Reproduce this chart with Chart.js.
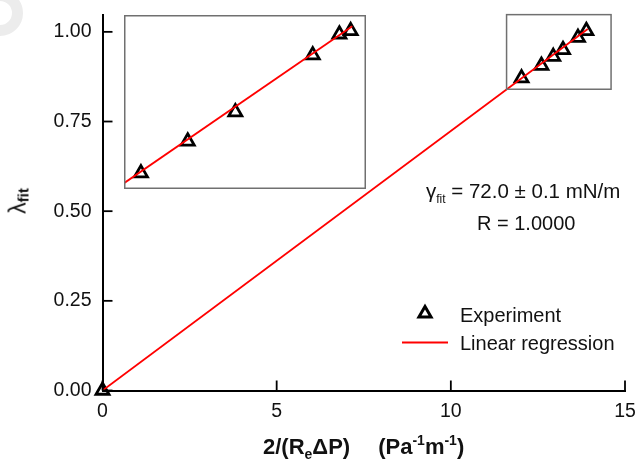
<!DOCTYPE html>
<html>
<head>
<meta charset="utf-8">
<script src="https://cdn.jsdelivr.net/npm/chart.js@4.4.1/dist/chart.umd.min.js"></script>
<style>
  body { margin: 0; background: #fff; }
  #wrap {
    position: relative;
    width: 636px;
    height: 468px;
    overflow: hidden;
    font-family: "Liberation Sans", Arial, sans-serif;
    color: #111;
  }
  #main { position: absolute; left: 0; top: 0; }
  .t { position: absolute; line-height: 1; white-space: nowrap; font-size: 20px; }
  .lo { position: relative; top: 5px; font-size: 12px; }
  .hi { position: relative; top: -9px; font-size: 14px; }
  #ring {
    position: absolute; left: -23px; top: -10px; width: 46px; height: 46px;
    box-sizing: border-box; border: 11px solid #ececec; border-radius: 50%;
  }
  #inset { position: absolute; left: 124px; top: 15px; }
</style>
</head>
<body>
<div id="wrap">
  <div id="ring"></div>
  <canvas id="main" width="636" height="468"></canvas>
  <canvas id="inset" width="242" height="174"></canvas>

  <div class="t" style="left:426px; top:181px; font-size:20.5px;">&gamma;<span class="lo">fit</span> = 72.0 &plusmn; 0.1 mN/m</div>
  <div class="t" style="left:477px; top:213px;">R = 1.0000</div>
  <div class="t" style="left:460px; top:305px;">Experiment</div>
  <div class="t" style="left:460px; top:333px;">Linear regression</div>

  <div class="t" style="left:263px; top:436px; font-size:22px; font-weight:bold;">2/(R<span class="lo" style="font-size:14px;">e</span>&Delta;P)<span style="display:inline-block;width:28px;"></span>(Pa<span class="hi">-1</span>m<span class="hi">-1</span>)</div>
  <div class="t" style="left:18px; top:201px; font-size:23px; transform:translate(-50%,-50%) rotate(-90deg);">&lambda;<span class="lo" style="font-size:15px; font-weight:bold; top:3px;">fit</span></div>
</div>

<script>
// measured points, 2/(Re dP) vs lambda_fit
const expX = [0, 12.03, 12.6, 12.94, 13.22, 13.65, 13.89];
const expY = [0, 0.871, 0.906, 0.931, 0.95, 0.984, 1.003];

// fitted line through origin
const regX = [0, 13.93];
const regY = [0, 1.008];

// inset (zoom of the upper right corner)
const insetX = [11.81, 12.39, 12.98, 13.94, 14.27, 14.41];
const insetY = [0.859, 0.897, 0.932, 1.0, 1.025, 1.029];
const insetRegX = [11.6, 14.43];
const insetRegY = [0.847, 1.0345];

const xTicks = [0, 5, 10, 15];
const yTicks = [0, 0.25, 0.5, 0.75, 1.0];

const zoomBox = { xMin: 11.6, xMax: 14.6, yMin: 0.84, yMax: 1.048 };

Chart.defaults.font.family = "'Liberation Sans', Arial, sans-serif";
Chart.defaults.color = "#111";

const toPoints = (xs, ys) => xs.map((x, i) => ({ x: x, y: ys[i] }));

const RED = "#ff0000";

const triangle = (ctx, x, y, r) => {
  ctx.beginPath();
  ctx.moveTo(x, y - r);
  ctx.lineTo(x + Math.sin(Math.PI * 2 / 3) * r, y + r / 2);
  ctx.lineTo(x - Math.sin(Math.PI * 2 / 3) * r, y + r / 2);
  ctx.closePath();
  ctx.stroke();
};

const mainExtras = {
  id: "mainExtras",
  afterDraw(chart) {
    const { ctx, chartArea, scales } = chart;
    ctx.save();
    // ticks pointing into the plot
    ctx.strokeStyle = "#000";
    ctx.lineWidth = 1.8;
    scales.x.ticks.forEach((t) => {
      const px = scales.x.getPixelForValue(t.value);
      ctx.beginPath();
      ctx.moveTo(px, chartArea.bottom);
      ctx.lineTo(px, chartArea.bottom - 10);
      ctx.stroke();
    });
    scales.y.ticks.forEach((t) => {
      const py = scales.y.getPixelForValue(t.value);
      ctx.beginPath();
      ctx.moveTo(chartArea.left, py);
      ctx.lineTo(chartArea.left + 10, py);
      ctx.stroke();
    });

    // box marking the zoomed region
    const x0 = scales.x.getPixelForValue(zoomBox.xMin);
    const x1 = scales.x.getPixelForValue(zoomBox.xMax);
    const y0 = scales.y.getPixelForValue(zoomBox.yMax);
    const y1 = scales.y.getPixelForValue(zoomBox.yMin);
    ctx.strokeStyle = "#707070";
    ctx.lineWidth = 1.5;
    ctx.strokeRect(x0, y0, x1 - x0, y1 - y0);

    // legend symbols
    ctx.strokeStyle = "#000";
    ctx.lineWidth = 3;
    ctx.lineJoin = "miter";
    triangle(ctx, 425, 313.5, 7);
    ctx.strokeStyle = RED;
    ctx.lineWidth = 2;
    ctx.beginPath();
    ctx.moveTo(402, 342.5);
    ctx.lineTo(448, 342.5);
    ctx.stroke();
    ctx.restore();
  },
};

new Chart(document.getElementById("main"), {
  type: "scatter",
  data: {
    datasets: [
      {
        type: "line",
        label: "Linear regression",
        data: toPoints(regX, regY),
        borderColor: RED,
        borderWidth: 1.8,
        pointRadius: 0,
        fill: false,
      },
      {
        label: "Experiment",
        data: toPoints(expX, expY),
        pointStyle: "triangle",
        pointRadius: 7.5,
        borderWidth: 2.8,
        borderColor: "#000",
        backgroundColor: "rgba(0,0,0,0)",
        clip: false,
      },
    ],
  },
  options: {
    responsive: false,
    animation: false,
    layout: { autoPadding: false, padding: { left: 0, top: 15, right: 11, bottom: 0 } },
    plugins: { legend: { display: false }, tooltip: { enabled: false } },
    scales: {
      x: {
        type: "linear",
        min: 0,
        max: 15,
        afterBuildTicks: (s) => { s.ticks = xTicks.map((v) => ({ value: v })); },
        afterFit: (s) => {
          s.height = 77.5;
          s.paddingLeft = 0; s.paddingRight = 0; s.paddingTop = 0; s.paddingBottom = 0;
        },
        grid: { display: false, drawTicks: false },
        border: { display: true, color: "#000", width: 2 },
        ticks: { font: { size: 19.5 }, padding: 9, callback: (v) => String(v) },
      },
      y: {
        type: "linear",
        min: 0,
        max: 1.047,
        afterBuildTicks: (s) => { s.ticks = yTicks.map((v) => ({ value: v })); },
        afterFit: (s) => {
          s.width = 102.5;
          s.paddingLeft = 0; s.paddingRight = 0; s.paddingTop = 0; s.paddingBottom = 0;
        },
        grid: { display: false, drawTicks: false },
        border: { display: true, color: "#000", width: 2 },
        ticks: { font: { size: 19.5 }, padding: 11, callback: (v) => Number(v).toFixed(2) },
      },
    },
  },
  plugins: [mainExtras],
});

const insetFrame = {
  id: "insetFrame",
  afterDraw(chart) {
    const { ctx, width, height } = chart;
    ctx.save();
    ctx.strokeStyle = "#707070";
    ctx.lineWidth = 1.5;
    ctx.strokeRect(0.75, 0.75, width - 1.5, height - 1.5);
    ctx.restore();
  },
};

new Chart(document.getElementById("inset"), {
  type: "scatter",
  data: {
    datasets: [
      {
        type: "line",
        data: toPoints(insetRegX, insetRegY),
        borderColor: RED,
        borderWidth: 1.8,
        pointRadius: 0,
        fill: false,
      },
      {
        data: toPoints(insetX, insetY),
        pointStyle: "triangle",
        pointRadius: 7.5,
        borderWidth: 2.8,
        borderColor: "#000",
        backgroundColor: "rgba(0,0,0,0)",
        clip: false,
      },
    ],
  },
  options: {
    responsive: false,
    animation: false,
    layout: { autoPadding: false, padding: 0 },
    plugins: { legend: { display: false }, tooltip: { enabled: false } },
    scales: {
      x: { type: "linear", display: false, min: zoomBox.xMin, max: zoomBox.xMax },
      y: { type: "linear", display: false, min: zoomBox.yMin, max: zoomBox.yMax },
    },
  },
  plugins: [insetFrame],
});
</script>
</body>
</html>
